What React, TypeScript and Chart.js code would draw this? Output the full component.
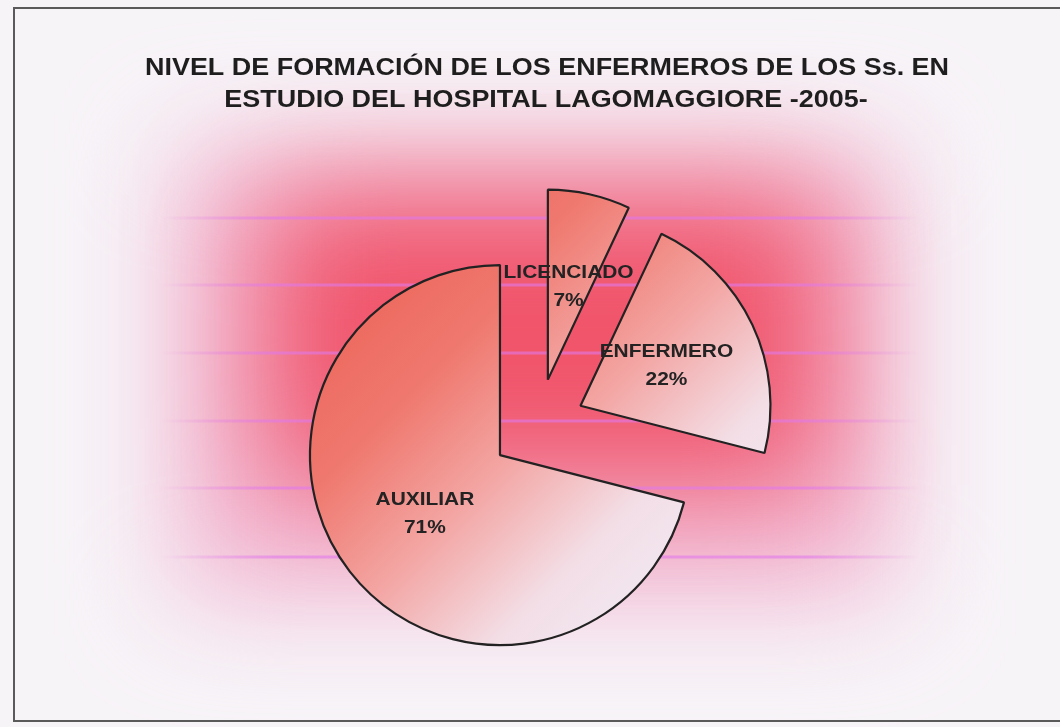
import React, { useEffect, useRef } from "react";
import { Chart, registerables } from "chart.js";

Chart.register(...registerables);

// ---- data ----
const categories = ["LICENCIADO", "ENFERMERO", "AUXILIAR"];
const percentages = [7, 22, 71];
const titleLines = [
  "NIVEL DE FORMACIÓN DE LOS ENFERMEROS DE LOS Ss. EN",
  "ESTUDIO DEL HOSPITAL LAGOMAGGIORE -2005-",
];

// ---- styling constants ----
const EXPLODE = 47.5;
const RADIUS = 190;
const FONT = '"Liberation Sans", Arial, Helvetica, sans-serif';
const HSTRETCH = 1.1;

function sliceCenter(chart: any, values: number[], i: number) {
  const area = chart.chartArea;
  const total = values.reduce((a, b) => a + b, 0);
  let before = 0;
  for (let k = 0; k < i; k++) before += values[k];
  const mid = -Math.PI / 2 + (2 * Math.PI * (before + values[i] / 2)) / total;
  const cx = (area.left + area.right) / 2 + Math.cos(mid) * EXPLODE;
  const cy = (area.top + area.bottom) / 2 + Math.sin(mid) * EXPLODE;
  return { cx, cy };
}

function stretchedText(ctx: any, text: string, x: number, y: number) {
  ctx.save();
  ctx.translate(x, y);
  ctx.scale(HSTRETCH, 1);
  ctx.fillText(text, 0, 0);
  ctx.restore();
}

const decorPlugin = {
  id: "decor",
  beforeDraw(chart: any) {
    const { ctx, width, height } = chart;
    ctx.save();
    ctx.fillStyle = "rgb(247,244,248)";
    ctx.fillRect(0, 0, width, height);
    // soft glow of the plot background
    ctx.filter = "blur(55px)";
    ctx.fillStyle = "rgb(242,185,212)";
    ctx.fillRect(175, 150, 720, 450);
    ctx.filter = "blur(60px)";
    ctx.fillStyle = "rgb(240,84,106)";
    ctx.fillRect(265, 195, 560, 290);
    ctx.filter = "none";
    ctx.restore();

    // faint scan lines
    ctx.save();
    const lineYs = [218, 285, 353, 421, 488, 557];
    for (const y of lineYs) {
      const lg = ctx.createLinearGradient(160, 0, 920, 0);
      lg.addColorStop(0, "rgba(225,120,235,0)");
      lg.addColorStop(0.15, "rgba(225,120,235,0.6)");
      lg.addColorStop(0.85, "rgba(225,120,235,0.6)");
      lg.addColorStop(1, "rgba(225,120,235,0)");
      ctx.strokeStyle = lg;
      ctx.lineWidth = 3;
      ctx.beginPath();
      ctx.moveTo(160, y);
      ctx.lineTo(920, y);
      ctx.stroke();
    }
    ctx.restore();

    // frame
    ctx.save();
    ctx.strokeStyle = "#5a5a5a";
    ctx.lineWidth = 2;
    ctx.strokeRect(14, 8, 1100, 713);
    ctx.restore();

    // title
    ctx.save();
    ctx.fillStyle = "#1e1e1e";
    ctx.font = `bold 24.5px ${FONT}`;
    ctx.textAlign = "center";
    ctx.textBaseline = "middle";
    stretchedText(ctx, titleLines[0], 547, 68);
    stretchedText(ctx, titleLines[1], 546, 100);
    ctx.restore();
  },
  beforeDatasetDraw(chart: any, args: any) {
    const meta = args.meta;
    const area = chart.chartArea;
    const cx = (area.left + area.right) / 2 + (meta.controller.offsetX || 0);
    const cy = (area.top + area.bottom) / 2 + (meta.controller.offsetY || 0);
    meta.data.forEach((arc: any) => {
      const mid = (arc.startAngle + arc.endAngle) / 2;
      arc.x = cx + Math.cos(mid) * EXPLODE;
      arc.y = cy + Math.sin(mid) * EXPLODE;
    });
  },
  afterDatasetsDraw(chart: any) {
    const { ctx } = chart;
    const meta = chart.getDatasetMeta(0);
    ctx.save();
    ctx.fillStyle = "#232323";
    ctx.font = `bold 19px ${FONT}`;
    ctx.textAlign = "center";
    ctx.textBaseline = "middle";
    meta.data.forEach((arc: any, i: number) => {
      const p = arc.getCenterPoint(false);
      stretchedText(ctx, categories[i], p.x, p.y - 14);
      stretchedText(ctx, `${percentages[i]}%`, p.x, p.y + 14);
    });
    ctx.restore();
  },
};

export default function App() {
  const ref = useRef<HTMLCanvasElement | null>(null);

  useEffect(() => {
    if (!ref.current) return;
    const chart = new Chart(ref.current, {
      type: "pie",
      data: {
        labels: categories,
        datasets: [
          {
            data: percentages,
            radius: RADIUS,
            borderColor: "#222222",
            borderWidth: 2.2,
            backgroundColor: (c: any) => {
              const chart = c.chart;
              if (!chart.chartArea || c.dataIndex === undefined) return "rgb(240,130,120)";
              const { cx, cy } = sliceCenter(chart, percentages, c.dataIndex);
              const g = chart.ctx.createLinearGradient(cx - RADIUS, cy - RADIUS, cx + RADIUS, cy + RADIUS);
              g.addColorStop(0, "rgb(236,96,86)");
              g.addColorStop(0.3, "rgb(239,120,110)");
              g.addColorStop(0.52, "rgb(243,166,164)");
              g.addColorStop(0.74, "rgb(243,222,230)");
              g.addColorStop(1, "rgb(240,238,248)");
              return g;
            },
          } as any,
        ],
      },
      options: {
        responsive: false,
        animation: false,
        layout: { padding: { left: 15, right: 0, top: 125, bottom: 0 } },
        plugins: {
          legend: { display: false },
          tooltip: { enabled: false },
          title: { display: false },
        },
      },
      plugins: [decorPlugin as any],
    });
    return () => chart.destroy();
  }, []);

  return (
    <div style={{ position: "absolute", left: 0, top: 0, width: 1060, height: 727 }}>
      <canvas ref={ref} width={1060} height={727} style={{ display: "block" }} />
    </div>
  );
}
